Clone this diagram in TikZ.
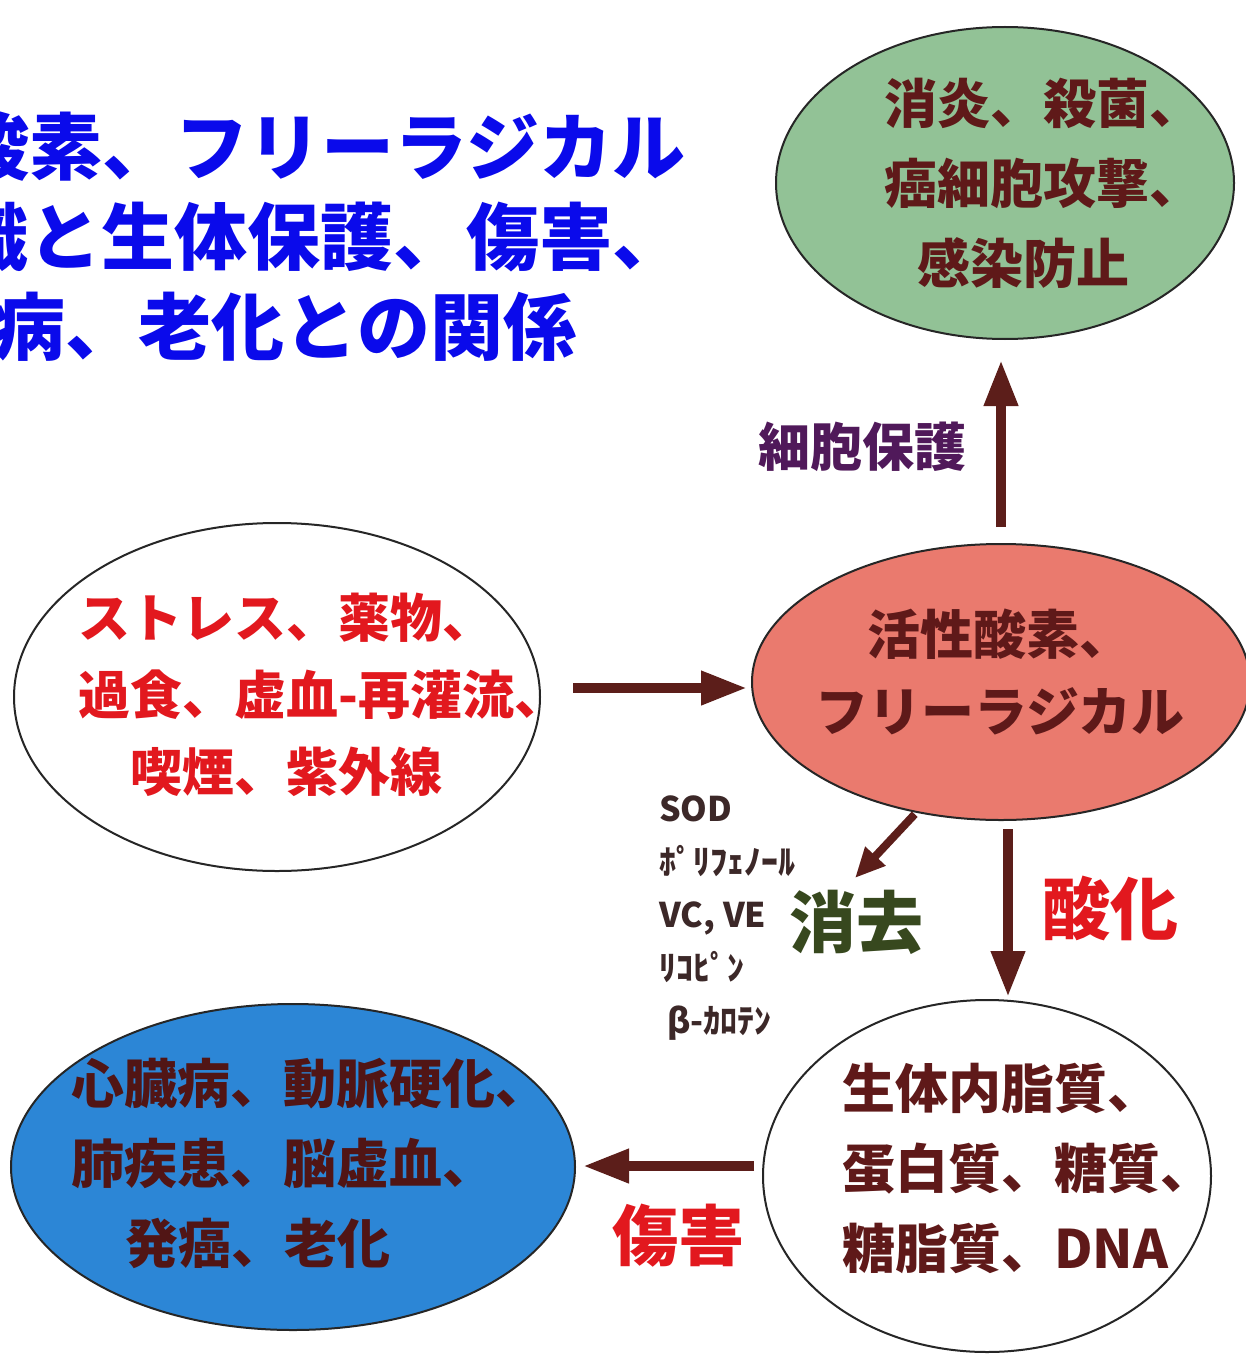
\documentclass[tikz,border=0pt]{standalone}
\usepackage{fontspec}
\setmainfont{Noto Sans CJK JP}
\usetikzlibrary{shapes.geometric,arrows.meta}
\definecolor{ttlblue}{RGB}{10,10,235}
\definecolor{grnfill}{RGB}{146,194,150}
\definecolor{salmonfill}{RGB}{234,122,110}
\definecolor{bluefill}{RGB}{44,134,214}
\definecolor{maroontxt}{RGB}{95,25,25}
\definecolor{arrowc}{RGB}{92,30,26}
\definecolor{redtxt}{RGB}{226,24,30}
\definecolor{purptxt}{RGB}{80,25,90}
\definecolor{olivetxt}{RGB}{55,72,30}
\definecolor{darktxt}{RGB}{60,40,40}
\newcommand{\fsz}[2]{\fontsize{#1}{#2}\selectfont}
\begin{document}
\begin{tikzpicture}[x=1pt,y=1pt,
  blob/.style={ellipse, draw=black!85, line width=2pt, inner sep=0pt},
  bigarrow/.style={draw=arrowc, line width=10pt, -{Triangle[length=46pt,width=32pt]}},
  smallarrow/.style={draw=arrowc, line width=8pt, -{Triangle[length=30pt,width=26pt]}},
  blobtext/.style={inner sep=0pt}]
\useasboundingbox (0,0) rectangle (1246,-1356);
\clip (0,0) rectangle (1246,-1356);

% title
\node[font=\fsz{73}{90}\bfseries, text=ttlblue, align=center] (title) at (248,-237)
  {活性酸素、フリーラジカル\\の認識と生体保護、傷害、\\疾病、老化との関係};

% ellipses
\node[blob, fill=grnfill, minimum width=458pt, minimum height=312pt] (green) at (1005,-183) {};
\node[blob, fill=salmonfill, minimum width=498pt, minimum height=276pt] (ros) at (1001,-682) {};
\node[blob, fill=white, minimum width=526pt, minimum height=348pt] (cause) at (277,-697) {};
\node[blob, fill=bluefill, minimum width=564pt, minimum height=326pt] (disease) at (293,-1167) {};
\node[blob, fill=white, minimum width=448pt, minimum height=352pt] (bio) at (987,-1176) {};

% ellipse texts
\node[blobtext, font=\fsz{53}{80}\bfseries, text=maroontxt, align=left, anchor=west] (greentxt) at (884,-183)
  {消炎、殺菌、\\癌細胞攻撃、\\\hspace*{33pt}感染防止};
\node[blobtext, font=\fsz{53}{77}\bfseries, text=maroontxt, align=center] (rostxt) at (1000,-672)
  {活性酸素、\\フリーラジカル};
\node[blobtext, font=\fsz{52}{77}\bfseries, text=redtxt, align=left, anchor=west] (causetxt) at (78,-695)
  {ストレス、薬物、\\過食、虚血-再灌流、\\\hspace*{52pt}喫煙、紫外線};
\node[blobtext, font=\fsz{53}{80}\bfseries, text=maroontxt!85!black, align=left, anchor=west] (diseasetxt) at (71,-1163)
  {心臓病、動脈硬化、\\肺疾患、脳虚血、\\\hspace*{54pt}発癌、老化};
\node[blobtext, font=\fsz{53}{80}\bfseries, text=maroontxt, align=left, anchor=west] (biotxt) at (842,-1168)
  {生体内脂質、\\蛋白質、糖質、\\糖脂質、DNA};

% helper coordinates
\coordinate (ylev) at (0,-688);
\coordinate (xdown) at (1008,0);
\coordinate (ylow) at (0,-1166);
\coordinate (diagend) at (855,-878);

% arrows
\draw[bigarrow, shorten <=16pt, shorten >=20pt] (ros.north) -- (ros.north |- green.south);
\draw[bigarrow, shorten <=32pt, shorten >=4pt] (cause.east |- ylev) -- (ros.west |- ylev);
\draw[bigarrow, shorten <=8pt, shorten >=2pt] (ros.south -| xdown) -- (bio.north -| xdown);
\draw[smallarrow, shorten <=2pt] (ros.237) -- (diagend);
\draw[bigarrow, shorten <=8pt, shorten >=7pt] (bio.west |- ylow) -- (disease.east |- ylow);

% labels
\node[font=\fsz{52}{52}\bfseries, text=purptxt] (protect) at (862,-447) {細胞保護};
\node[font=\fsz{68}{68}\bfseries, text=redtxt] (oxid) at (1110,-908) {酸化};
\node[font=\fsz{66}{66}\bfseries, text=redtxt] (damage) at (678,-1236) {傷害};
\node[font=\fsz{67}{67}\bfseries, text=olivetxt] (scav) at (856,-922) {消去};
\node[font=\fsz{34}{53}\bfseries, text=darktxt, align=left, anchor=west, inner sep=0pt] (antiox) at (659,-918)
  {SOD\\ﾎﾟﾘﾌｪﾉｰﾙ\\VC, VE\\ﾘｺﾋﾟﾝ\\\hspace*{8pt}β-ｶﾛﾃﾝ};
\end{tikzpicture}
\end{document}
